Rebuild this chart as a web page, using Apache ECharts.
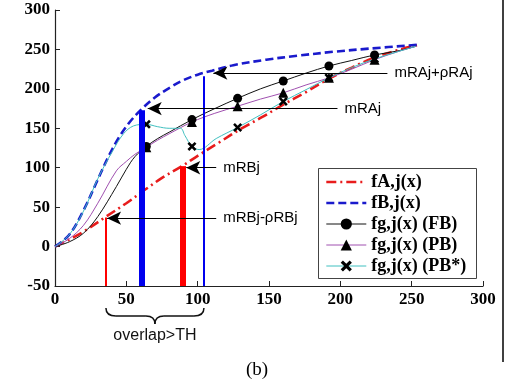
<!DOCTYPE html>
<html>
<head>
<meta charset="utf-8">
<script src="https://cdn.jsdelivr.net/npm/echarts@6/dist/echarts.min.js"></script>
<style>
  html, body { margin: 0; padding: 0; background: #fff; }
  #chart { width: 505px; height: 385px; }
</style>
</head>
<body>
<div id="chart"></div>
<script>
// curves
const fAX = [0, 10, 20, 35, 50, 63, 75, 89, 100, 115, 130, 145, 160, 175, 192, 208, 223, 240, 255]
const fAY = [0, 9, 19, 37, 55, 72, 87, 102, 115, 132, 149, 164, 180, 195, 213, 227, 239, 249, 256]

const fBX = [0, 10, 20, 30, 38, 45, 52, 60, 70, 80, 90, 100, 110, 125, 148, 170, 195, 220, 255]
const fBY = [0, 15, 46, 85, 116, 139, 157, 173, 189, 201, 211, 218, 223, 230, 237, 242, 247, 251, 256]

const fbX = [0, 10, 20, 30, 43, 50, 56, 64, 72, 80, 96, 112, 128, 144, 160, 176, 192, 208, 224, 240, 253]
const fbY = [0, 6, 17, 38, 76, 98, 114, 127, 137, 145, 161, 175, 188, 200, 210, 220, 229, 236, 243, 248, 254]

const pbX = [0, 10, 20, 30, 43, 50, 56, 64, 72, 80, 96, 112, 128, 144, 160, 176, 192, 208, 224, 240, 253]
const pbY = [0, 10, 27, 55, 96, 108, 117, 126, 135, 143, 158, 169, 178, 187, 195, 205, 214, 225, 237, 247, 254]

const pbsX = [0, 10, 20, 30, 40, 48, 55, 64, 72, 80, 88, 91, 96, 101, 113, 128, 144, 160, 176, 192, 208, 224, 240, 253]
const pbsY = [0, 15, 45, 86, 120, 143, 153, 155, 152, 150, 150, 141, 127, 123, 137, 151, 167, 184, 199, 214, 227, 238, 247, 254]

// x positions where the fg curves carry a marker
const markX = [64, 96, 128, 160, 192, 224]

// vertical bars [x, top], all starting at the bottom of the axis
const redThin = [35.7, 37]
const blueThick = [60.5, 173]
const redThick = [89.5, 102]
const blueThin = [104.4, 216]

// arrows: label, y, x where the line starts (right), x of the tip
const arrowNames = ['mRAj+ρRAj', 'mRAj', 'mRBj', 'mRBj-ρRBj']
const arrowY = [220, 175, 100, 36]
const arrowFrom = [233, 198, 113, 113]
const arrowTo = [111, 65, 92, 36.5]

const names = ['fA,j(x)', 'fB,j(x)', 'fg,j(x) (FB)', 'fg,j(x) (PB)', 'fg,j(x) (PB*)']

const crossPath = 'path://M2,0L5,3L8,0L10,2L7,5L10,8L8,10L5,7L2,10L0,8L3,5L0,2Z'
const serif = 'Liberation Serif'
const sans = 'Liberation Sans'

function pairs(xs, ys) {
  return xs.map((x, i) => [x, ys[i]])
}
function marked(xs, ys) {
  return xs.map((x, i) => markX.includes(x) ? [x, ys[i]] : { value: [x, ys[i]], symbol: 'none' })
}

const bottom = -50
function bar(b, color, width) {
  return [
    { coord: [b[0], bottom], lineStyle: { color: color, width: width, type: 'solid' }, symbol: 'none' },
    { coord: [b[0], b[1]], symbol: 'none' }
  ]
}
const arrowLines = arrowNames.map((n, i) => [
  {
    name: n, coord: [arrowFrom[i], arrowY[i]], symbol: 'none',
    lineStyle: { color: '#000', width: 1, type: 'solid' },
    label: { show: true, position: 'start', formatter: '{b}', distance: 7, color: '#000', fontFamily: sans, fontSize: 15 }
  },
  { coord: [arrowTo[i], arrowY[i]], symbol: 'arrow', symbolSize: [10, 14] }
])

const chart = echarts.init(document.getElementById('chart'))

const axisFont = { color: '#000', fontFamily: serif, fontWeight: 'bold', fontSize: 17 }
const smooth = 0.35

chart.setOption({
  animation: false,
  backgroundColor: '#fff',
  grid: { left: 55, top: 10, right: 22, bottom: 99 },
  xAxis: {
    type: 'value', min: 0, max: 300, interval: 50,
    axisLine: { onZero: false, lineStyle: { color: '#222', width: 1.2 } },
    axisTick: { inside: true, length: 5, lineStyle: { color: '#222' } },
    axisLabel: Object.assign({ margin: 5 }, axisFont),
    splitLine: { show: false }
  },
  yAxis: {
    type: 'value', min: -50, max: 300, interval: 50,
    axisLine: { show: true, lineStyle: { color: '#222', width: 1.2 } },
    axisTick: { show: true, inside: true, length: 5, lineStyle: { color: '#222' } },
    axisLabel: Object.assign({ margin: 5 }, axisFont),
    splitLine: { show: false }
  },
  legend: {
    data: [
      { name: names[0], itemStyle: { opacity: 0 }, lineStyle: { width: 2.6 } },
      { name: names[1], itemStyle: { opacity: 0 }, lineStyle: { width: 2.6 } },
      names[2], names[3], names[4]
    ],
    orient: 'vertical',
    left: 325, top: 173, z: 5,
    padding: 0,
    itemWidth: 40, itemHeight: 14, itemGap: 3,
    lineStyle: { width: 1 },
    textStyle: { color: '#000', fontFamily: serif, fontWeight: 'bold', fontSize: 18 }
  },
  series: [
    {
      name: names[0], type: 'line', data: pairs(fAX, fAY), smooth: smooth,
      symbol: 'none', z: 3,
      lineStyle: { color: '#e81c1c', width: 2.6, type: [10, 4, 2, 4] }, itemStyle: { color: '#e81c1c' }
    },
    {
      name: names[1], type: 'line', data: pairs(fBX, fBY), smooth: smooth,
      symbol: 'none', z: 3,
      lineStyle: { color: '#1a1acc', width: 2.6, type: [8, 4] }, itemStyle: { color: '#1a1acc' }
    },
    {
      name: names[2], type: 'line', data: marked(fbX, fbY), smooth: smooth,
      symbol: 'circle', symbolSize: 9,
      lineStyle: { color: '#111', width: 1 }, itemStyle: { color: '#000' }
    },
    {
      name: names[3], type: 'line', data: marked(pbX, pbY), smooth: smooth,
      symbol: 'triangle', symbolSize: 10,
      lineStyle: { color: '#a050b0', width: 1 }, itemStyle: { color: '#000' }
    },
    {
      name: names[4], type: 'line', data: marked(pbsX, pbsY), smooth: smooth,
      symbol: crossPath, symbolSize: 9,
      lineStyle: { color: '#40c0c0', width: 1 }, itemStyle: { color: '#000' }
    },
    {
      name: 'marks', type: 'line', data: [], z: 4,
      markLine: {
        silent: true, animation: false, symbol: ['none', 'none'],
        label: { show: false },
        data: [
          bar(redThin, '#ff0000', 2),
          bar(blueThick, '#0000ee', 6),
          bar(redThick, '#ff0000', 6),
          bar(blueThin, '#0000ee', 2)
        ].concat(arrowLines)
      }
    }
  ]
})

// legend frame, brace and captions below the axis
const xa = chart.convertToPixel({ xAxisIndex: 0 }, redThin[0])
const xb = chart.convertToPixel({ xAxisIndex: 0 }, blueThin[0])
const xm = (xa + xb) / 2
const bTop = 308, bMid = 316, bTip = 324
const braceStyle = { fill: 'none', stroke: '#111', lineWidth: 1.5 }
function quad(x1, y1, cx, cy, x2, y2) {
  return { type: 'bezierCurve', shape: { x1: x1, y1: y1, cpx1: cx, cpy1: cy, x2: x2, y2: y2 }, style: braceStyle }
}
function seg(x1, y1, x2, y2) {
  return { type: 'line', shape: { x1: x1, y1: y1, x2: x2, y2: y2 }, style: braceStyle }
}

chart.setOption({
  graphic: [
    { type: 'rect', z: 3, shape: { x: 318.5, y: 168.5, width: 158, height: 110 },
      style: { fill: '#fff', stroke: '#444', lineWidth: 1 } },
    quad(xa, bTop, xa, bMid, xa + 10, bMid),
    seg(xa + 10, bMid, xm - 9, bMid),
    quad(xm - 9, bMid, xm, bMid, xm, bTip),
    quad(xm, bTip, xm, bMid, xm + 9, bMid),
    seg(xm + 9, bMid, xb - 10, bMid),
    quad(xb - 10, bMid, xb, bMid, xb, bTop),
    { type: 'text', x: xm, y: 336, style: { text: 'overlap>TH', fontFamily: sans, fontSize: 16, fill: '#111', align: 'center', verticalAlign: 'middle' } },
    { type: 'text', x: 257, y: 370, style: { text: '(b)', fontFamily: serif, fontSize: 19, fill: '#000', align: 'center', verticalAlign: 'middle' } },
    { type: 'line', shape: { x1: 503, y1: 0, x2: 503, y2: 362 }, style: { stroke: '#000', lineWidth: 1.5 } }
  ]
})
</script>
</body>
</html>
